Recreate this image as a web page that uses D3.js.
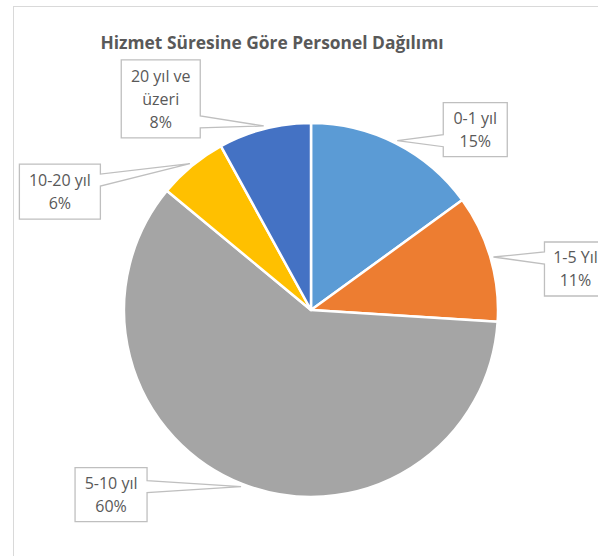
<!DOCTYPE html>
<html>
<head>
<meta charset="utf-8">
<script src="https://d3js.org/d3.v7.min.js"></script>
<style>
  body { margin: 0; background: #fff; }
  svg { display: block; font-family: "Open Sans", sans-serif; }
</style>
</head>
<body>
<svg id="chart" width="598" height="556"></svg>
<script>
// chart data
var categories = ["0-1 yıl", "1-5 Yıl", "5-10 yıl", "10-20 yıl", "20 yıl ve üzeri"];
var values = [15, 11, 60, 6, 8];
var labelLines = [["0-1 yıl"], ["1-5 Yıl"], ["5-10 yıl"], ["10-20 yıl"], ["20 yıl ve", "üzeri"]];
var colors = ["#5B9BD5", "#ED7D31", "#A5A5A5", "#FFC000", "#4472C4"];
var title = "Hizmet Süresine Göre Personel Dağılımı";

// layout of the callout boxes: offset of box centre from pointer tip, box size
var boxOffset = [[78, -11], [82, 12], [-130, 8], [-130, 28], [-103, -27]];
var boxSize = [[64, 54], [62, 54], [72, 54], [81, 55], [79, 78]];

var WIDTH = 598, HEIGHT = 556, CX = 311, CY = 310, R = 187;
var svg = d3.select("#chart");

// chart frame (cut off at right and bottom)
svg.append("rect")
  .attr("x", 13.5).attr("y", 6.5)
  .attr("width", 700).attr("height", 700)
  .attr("fill", "none").attr("stroke", "#d9d9d9");

svg.append("text")
  .attr("x", 272).attr("y", 49)
  .attr("text-anchor", "middle")
  .attr("font-size", 18).attr("font-weight", "bold")
  .attr("fill", "#595959")
  .attr("textLength", 343).attr("lengthAdjust", "spacingAndGlyphs")
  .text(title);

var pie = d3.pie().sort(null).value(function(d) { return d; });
var arcs = pie(values);
var total = d3.sum(values);

var arcGen = d3.arc().innerRadius(0).outerRadius(R);
var tipArc = d3.arc().innerRadius(R + 3).outerRadius(R + 3);

var g = svg.append("g").attr("transform", "translate(" + CX + "," + CY + ")");
g.selectAll("path.slice").data(arcs).enter().append("path")
  .attr("class", "slice")
  .attr("d", arcGen)
  .attr("fill", function(d, i) { return colors[i]; })
  .attr("stroke", "#fff").attr("stroke-width", 2.5)
  .attr("stroke-linejoin", "round");

// callouts
arcs.forEach(function(d, i) {
  var c = tipArc.centroid(d);
  var tx = CX + c[0], ty = CY + c[1];
  var w = boxSize[i][0], h = boxSize[i][1];
  var bx = tx + boxOffset[i][0] - w / 2, by = ty + boxOffset[i][1] - h / 2;
  var half = 6;
  var py = Math.max(by + 10 + half, Math.min(by + h - 10 - half, ty));
  var p;
  if (tx > bx + w) {
    // pointer on the right edge
    p = "M" + bx + "," + by + "H" + (bx + w) + "V" + (py - half) +
        "L" + tx + "," + ty + "L" + (bx + w) + "," + (py + half) +
        "V" + (by + h) + "H" + bx + "Z";
  } else {
    // pointer on the left edge
    p = "M" + bx + "," + by + "H" + (bx + w) + "V" + (by + h) + "H" + bx +
        "V" + (py + half) + "L" + tx + "," + ty + "L" + bx + "," + (py - half) + "Z";
  }
  svg.append("path")
    .attr("d", p)
    .attr("fill", "#fff").attr("stroke", "#bfbfbf").attr("stroke-width", 1.3);

  var lines = labelLines[i].concat([Math.round(values[i] / total * 100) + "%"]);
  var lh = 23;
  var y0 = by + h / 2 - (lines.length - 1) * lh / 2;
  svg.append("text")
    .attr("text-anchor", "middle")
    .attr("font-size", 16).attr("fill", "#595959")
    .selectAll("tspan").data(lines).enter().append("tspan")
    .attr("x", bx + w / 2)
    .attr("y", function(l, j) { return y0 + j * lh; })
    .attr("dy", "0.36em")
    .text(function(l) { return l; });
});
</script>
</body>
</html>
